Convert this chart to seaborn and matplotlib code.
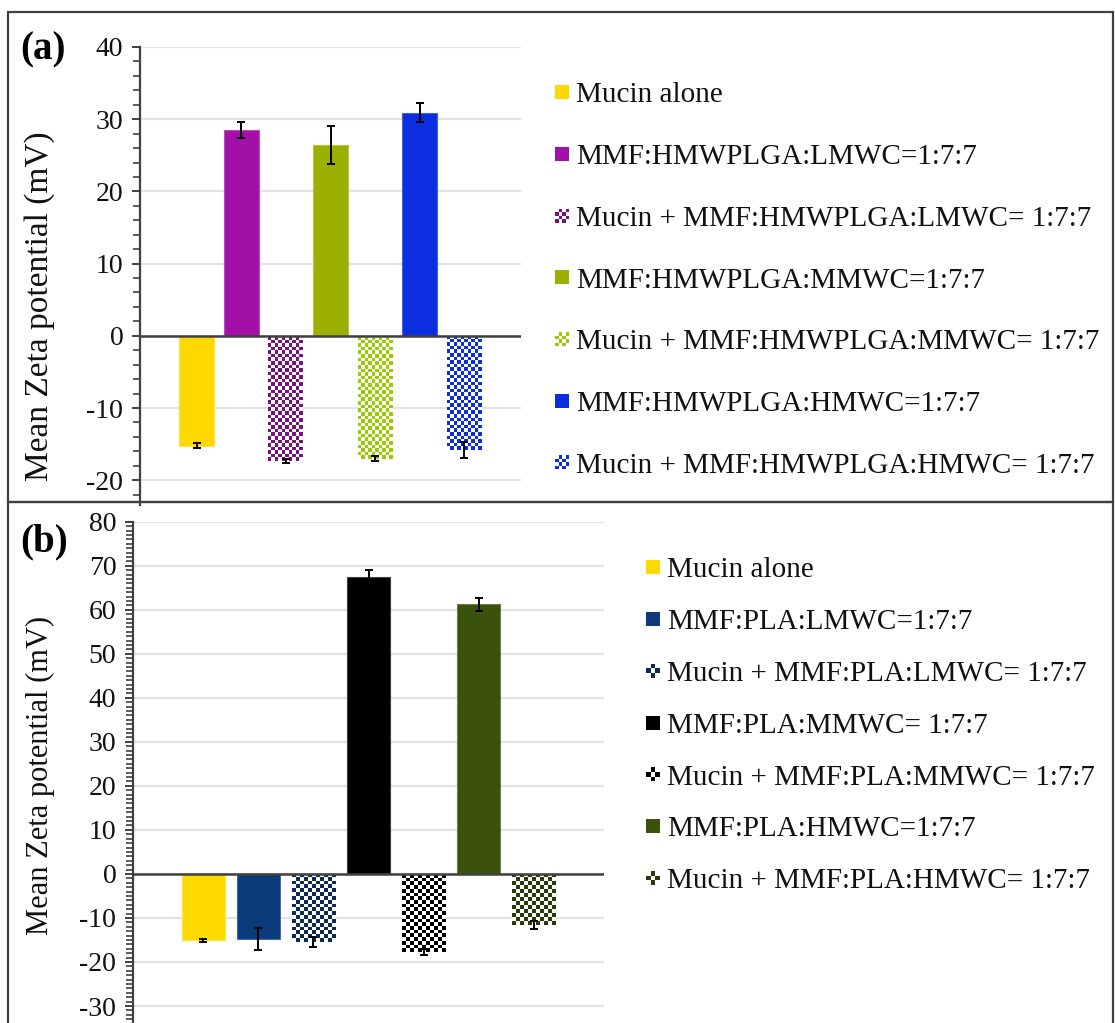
import numpy as np
import pandas as pd
import matplotlib
matplotlib.use("Agg")
import matplotlib.pyplot as plt
import seaborn as sns
from matplotlib.patches import Rectangle
from matplotlib.legend_handler import HandlerBase
from matplotlib.ticker import MultipleLocator
from matplotlib.colors import to_rgb

# ---------------- data ----------------
labels_a = ["Mucin alone",
            "MMF:HMWPLGA:LMWC=1:7:7",
            "Mucin + MMF:HMWPLGA:LMWC= 1:7:7",
            "MMF:HMWPLGA:MMWC=1:7:7",
            "Mucin + MMF:HMWPLGA:MMWC= 1:7:7",
            "MMF:HMWPLGA:HMWC=1:7:7",
            "Mucin + MMF:HMWPLGA:HMWC= 1:7:7"]
values_a = [-15.2, 28.5, -17.3, 26.4, -17.0, 30.9, -15.8]
errors_a = [0.3, 1.1, 0.3, 2.6, 0.4, 1.3, 1.1]
colors_a = ["#FFD800", "#A310A8", "#7A107E", "#9BB000", "#99CC00", "#0A2EE0", "#0A2EE0"]
checker_a = [False, False, True, False, True, False, True]

labels_b = ["Mucin alone",
            "MMF:PLA:LMWC=1:7:7",
            "Mucin + MMF:PLA:LMWC= 1:7:7",
            "MMF:PLA:MMWC= 1:7:7",
            "Mucin + MMF:PLA:MMWC= 1:7:7",
            "MMF:PLA:HMWC=1:7:7",
            "Mucin + MMF:PLA:HMWC= 1:7:7"]
values_b = [-15.1, -14.8, -15.5, 67.5, -17.7, 61.2, -11.6]
errors_b = [0.4, 2.5, 1.2, 1.5, 0.7, 1.5, 0.8]
colors_b = ["#FFDA00", "#0B3B7A", "#0B2A55", "#000000", "#000000", "#3B520A", "#283C08"]
checker_b = [False, False, True, False, True, False, True]

ylabel = "Mean Zeta potential (mV)"

# ---------------- style ----------------
sns.set_style("white")
plt.rcParams["font.family"] = ["Liberation Serif", "DejaVu Serif"]
plt.rcParams["axes.unicode_minus"] = False
TEXT = "#111111"
AXC = "#404040"

W, H = 1115, 1023
fig = plt.figure(figsize=(W / 100, H / 100), dpi=100)


def fx(px):
    return px / W


def fy(py):
    return (H - py) / H


class Proxy:
    def __init__(self, color, kind):
        self.color = color
        self.kind = kind


class SwatchHandler(HandlerBase):
    def create_artists(self, legend, orig, xd, yd, width, height, fontsize, trans):
        s = width
        x0 = -xd
        y0 = (height - s) / 2 - yd
        arts = []
        if orig.kind == "solid":
            arts.append(Rectangle((x0, y0), s, s, facecolor=orig.color,
                                  edgecolor="none", transform=trans))
        elif orig.kind == "checkA":
            n = 4
            c = s / n
            for i in range(n):
                for j in range(n):
                    if (i + j) % 2 == 0:
                        arts.append(Rectangle((x0 + j * c, y0 + i * c), c, c,
                                              facecolor=orig.color, edgecolor="none",
                                              transform=trans))
        else:  # plus-shaped glyph
            n = 3
            c = s / n
            for (i, j) in [(0, 1), (1, 0), (1, 2), (2, 1)]:
                arts.append(Rectangle((x0 + j * c, y0 + i * c), c, c,
                                      facecolor=orig.color, edgecolor="none",
                                      transform=trans))
        return arts


def add_checker(ax, patch, color, cell_px):
    x0 = patch.get_x()
    w = patch.get_width()
    y0 = patch.get_y()
    h = patch.get_height()
    ylo, yhi = sorted([y0, y0 + h])
    p0 = ax.transData.transform((x0, ylo))
    p1 = ax.transData.transform((x0 + w, yhi))
    nx = max(1, int(round((p1[0] - p0[0]) / cell_px)))
    ny = max(1, int(round((p1[1] - p0[1]) / cell_px)))
    ii, jj = np.indices((ny, nx))
    mask = (ii + jj) % 2 == 0
    rgba = np.ones((ny, nx, 4))
    rgba[mask, :3] = to_rgb(color)
    im = ax.imshow(rgba, extent=(x0, x0 + w, ylo, yhi), origin="upper",
                   interpolation="nearest", aspect="auto",
                   zorder=patch.get_zorder() + 0.1)
    im.set_clip_path(patch)


def panel(rect, labels, values, errors, colors, checker, ylim, major, minor,
          cell_px, label_coords, ylabel_size, legend_font, legend_anchor,
          labelspacing, handlelength, check_kind, panel_label, panel_pos):
    ax = fig.add_axes(rect)
    df = pd.DataFrame({"label": labels, "value": values})
    sns.barplot(data=df, x="label", y="value", hue="label", order=labels,
                hue_order=labels, palette=dict(zip(labels, colors)),
                saturation=1, width=0.78, errorbar=None, legend=False, ax=ax,
                zorder=2)
    xs = np.arange(len(labels))
    xlim = (-1.27, len(labels) - 1 + 1.27)
    ax.set_xlim(*xlim)
    ax.set_ylim(*ylim)

    # style bars
    for p in ax.patches:
        idx = int(round(p.get_x() + p.get_width() / 2))
        col = colors[idx]
        if checker[idx]:
            p.set_facecolor("white")
            p.set_edgecolor("none")
        else:
            rgb = np.array(to_rgb(col))
            p.set_edgecolor(tuple(rgb * 0.75 + 0.25))
            p.set_linewidth(0.8)
    for p in list(ax.patches):
        idx = int(round(p.get_x() + p.get_width() / 2))
        if checker[idx]:
            add_checker(ax, p, colors[idx], cell_px)

    ax.errorbar(xs, values, yerr=errors, fmt="none", ecolor="black",
                elinewidth=1.4, capsize=3, capthick=1.4, zorder=4)

    ax.set_xlim(*xlim)
    ax.set_ylim(*ylim)

    # axes styling
    for s in ["top", "right", "bottom"]:
        ax.spines[s].set_visible(False)
    ax.spines["left"].set_color(AXC)
    ax.spines["left"].set_linewidth(1.6)
    ax.set_xticks([])
    ax.set_xlabel("")
    ax.yaxis.set_major_locator(MultipleLocator(major))
    ax.yaxis.set_minor_locator(MultipleLocator(minor))
    ax.tick_params(axis="y", which="major", direction="out", length=6, width=1.4,
                   color=AXC, labelsize=20, labelcolor=TEXT, pad=6, left=True)
    ax.tick_params(axis="y", which="minor", direction="out", length=5, width=1.2,
                   color=AXC, left=True)
    ax.yaxis.grid(True, which="major", color="#e3e3e3", linewidth=1.6, zorder=0)
    ax.set_axisbelow(True)
    ax.axhline(0, color=AXC, linewidth=1.8, zorder=3)

    ax.set_ylabel(ylabel, fontsize=ylabel_size, color=TEXT)
    ax.yaxis.set_label_coords(*label_coords)
    ax.yaxis.label.set_va("center")

    handles = [Proxy(c, check_kind if ck else "solid") for c, ck in zip(colors, checker)]
    fig.legend(handles=handles, labels=labels, handler_map={Proxy: SwatchHandler()},
               loc="upper left", bbox_to_anchor=legend_anchor,
               bbox_transform=fig.transFigure, frameon=False,
               prop={"size": legend_font, "family": "Liberation Serif"},
               labelcolor=TEXT, borderpad=0, borderaxespad=0,
               handlelength=handlelength, handleheight=0.7,
               handletextpad=0.25, labelspacing=labelspacing)

    fig.text(panel_pos[0], panel_pos[1], panel_label, fontsize=28,
             fontweight="bold", ha="left", va="center", color="black")
    return ax


# panel (a): axis x 140..521, y(40)=47, y(0)=336, 7.22 px/unit
a_top, a_bot = 47, 505
a_ylim = (40 - (a_bot - a_top) / 7.22, 40)
panel([fx(140), fy(a_bot), fx(521) - fx(140), (a_bot - a_top) / H],
      labels_a, values_a, errors_a, colors_a, checker_a, a_ylim, 10, 2, 3.6,
      ((40 - 140) / 381, (a_bot - 306) / (a_bot - a_top)), 24, 21,
      (fx(555), fy(82)), 1.21, 0.48, "checkA", "(a)", (fx(20), fy(50)))

# panel (b): axis x 133..604, y(80)=521.7, y(-30)=1006
b_top, b_bot = 521.7, 1023
b_scale = (1006 - b_top) / 110.0
b_ylim = (80 - (b_bot - b_top) / b_scale, 80)
panel([fx(133), 0, fx(604) - fx(133), (b_bot - b_top) / H],
      labels_b, values_b, errors_b, colors_b, checker_b, b_ylim, 10, 1, 3.8,
      ((40 - 133) / 471, (b_bot - 775) / (b_bot - b_top)), 22, 21,
      (fx(646), fy(557)), 0.87, 0.48, "checkB", "(b)", (fx(20), fy(542)))

# panel frames
fig.add_artist(Rectangle((fx(8), fy(502)), fx(1113) - fx(8), (502 - 12) / H,
                         transform=fig.transFigure, fill=False,
                         edgecolor=AXC, linewidth=1.6, zorder=10))
fig.add_artist(Rectangle((fx(8), -0.05), fx(1113) - fx(8), fy(502) + 0.05,
                         transform=fig.transFigure, fill=False,
                         edgecolor=AXC, linewidth=1.6, zorder=10))

fig.savefig("out.png", dpi=100)
